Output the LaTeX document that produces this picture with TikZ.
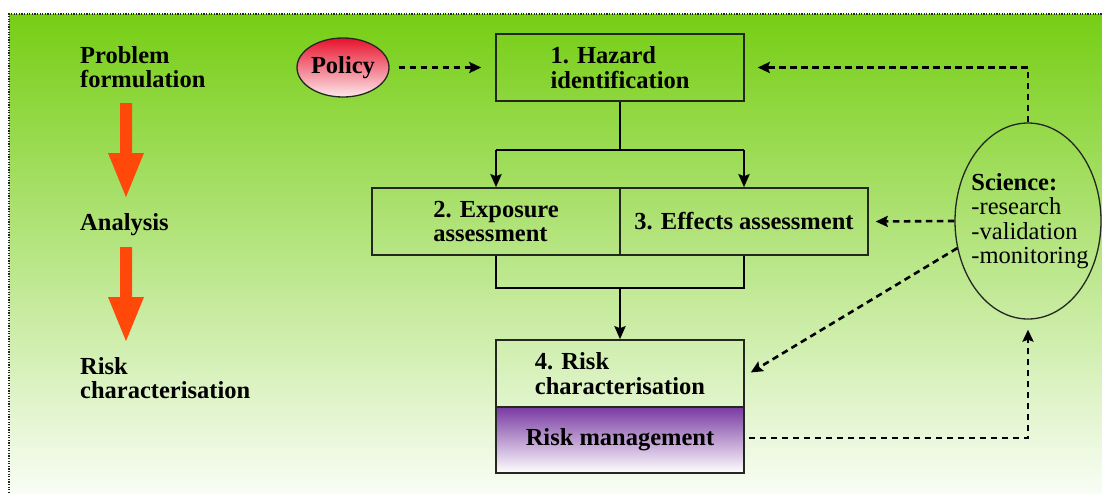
\documentclass[tikz,border=0pt]{standalone}
\usepackage{fontspec}
\setmainfont{Liberation Serif}
\usetikzlibrary{shapes.geometric,arrows.meta}

\definecolor{bgtop}{RGB}{118,206,20}
\definecolor{bgmid}{RGB}{185,228,128}
\definecolor{bgbot}{RGB}{249,253,245}
\definecolor{flow}{RGB}{255,72,10}
\definecolor{edge}{RGB}{35,40,30}
\definecolor{polred}{RGB}{232,18,44}
\definecolor{polpink}{RGB}{253,232,236}
\definecolor{mgmt}{RGB}{122,58,162}

\begin{document}
\begin{tikzpicture}[x=1pt,y=-1pt,
  every node/.style={font=\fontsize{24.5}{24.5}\selectfont\bfseries, inner sep=0pt},
  stagebox/.style={draw=edge, line width=1.5pt, minimum width=248pt, minimum height=67pt, align=left},
  tree/.style={line width=2.8pt, black},
  treearrow/.style={tree, -{Stealth[length=13pt,width=11pt,inset=2pt]}},
  dasharrow/.style={line width=2.6pt, black, dash pattern=on 6.5pt off 4.5pt,
    -{Stealth[length=12pt,width=11pt,inset=2pt]}},
  flowarrow/.style={fill=flow, draw=none},
  label/.style={align=left}
]
% canvas and gradient panel
\useasboundingbox (0,0) rectangle (1102,493);
\fill[white] (0,0) rectangle (1102,493);
\shade[top color=bgtop, middle color=bgmid, bottom color=bgbot] (9,14) rectangle (1102,493);
\draw[edge, line width=1.1pt, dash pattern=on 1.2pt off 1.4pt] (9,493) -- (9,14) -- (1102,14);

% stage labels on the left with the orange flow arrows
\node[label, anchor=west] (lprob) at (80,67) {Problem\\formulation};
\node[label, anchor=base west] (lana) at (80,230) {Analysis};
\node[label, anchor=west] (lrisk) at (80,378) {Risk\\characterisation};
\fill[flowarrow] (120,103) -- (132,103) -- (132,153) -- (144,153) -- (126,197)
  -- (108,153) -- (120,153) -- cycle;
\fill[flowarrow] (120,247) -- (132,247) -- (132,297) -- (144,297) -- (126,341)
  -- (108,297) -- (120,297) -- cycle;

% assessment boxes
\node[stagebox] (b1) at (620,67.5) {1. Hazard\\identification};
\node[stagebox] (b2) at (496,221.5) {2. Exposure\\assessment};
\node[stagebox] (b3) at (744,221.5) {3. Effects assessment};
\node[draw=edge, line width=1.5pt, minimum width=248pt, minimum height=66pt,
  top color=mgmt, bottom color=white] (rm) at (620,440) {Risk management};
\node[stagebox] (b4) at (620,373.5) {4. Risk\\characterisation};

% policy and science
\node[ellipse, draw=edge, line width=1.3pt, minimum width=92pt, minimum height=59pt,
  top color=polred, bottom color=polpink] (pol) at (343,67.5) {Policy};
\node[ellipse, draw=edge, line width=1.3pt, minimum width=146pt, minimum height=196pt] (sci) at (1028,221) {};
\node[align=left] (scitext) at (1030,221)
  {\textbf{Science:}\\\textmd{-research}\\\textmd{-validation}\\\textmd{-monitoring}};

% solid flow between the boxes
\coordinate (split) at (620,150);
\coordinate (merge) at (620,288);
\draw[tree] (b1.south) -- (split);
\draw[tree] (b2.north |- split) -- (b3.north |- split);
\draw[treearrow] (b2.north |- split) -- (b2.north);
\draw[treearrow] (b3.north |- split) -- (b3.north);
\draw[tree] (b2.south) -- (b2.south |- merge) -- (b3.south |- merge) -- (b3.south);
\draw[treearrow] (merge) -- (b4.north);

% dashed influences
\draw[dasharrow] ([xshift=9pt]pol.east) -- ([xshift=-14pt]b1.west);
\draw[dasharrow] (sci.north) -- (sci.north |- b1.east) -- ([xshift=13pt]b1.east);
\draw[dasharrow] (sci.west) -- ([xshift=7pt]b3.east);
\draw[dasharrow] (sci.201) -- ([xshift=6pt,yshift=1pt]b4.east);
\draw[dasharrow] ([xshift=4pt,yshift=2pt]rm.east) -- ([yshift=2pt]rm.east -| sci.south)
  -- ([yshift=-10pt]sci.south);
\end{tikzpicture}
\end{document}
